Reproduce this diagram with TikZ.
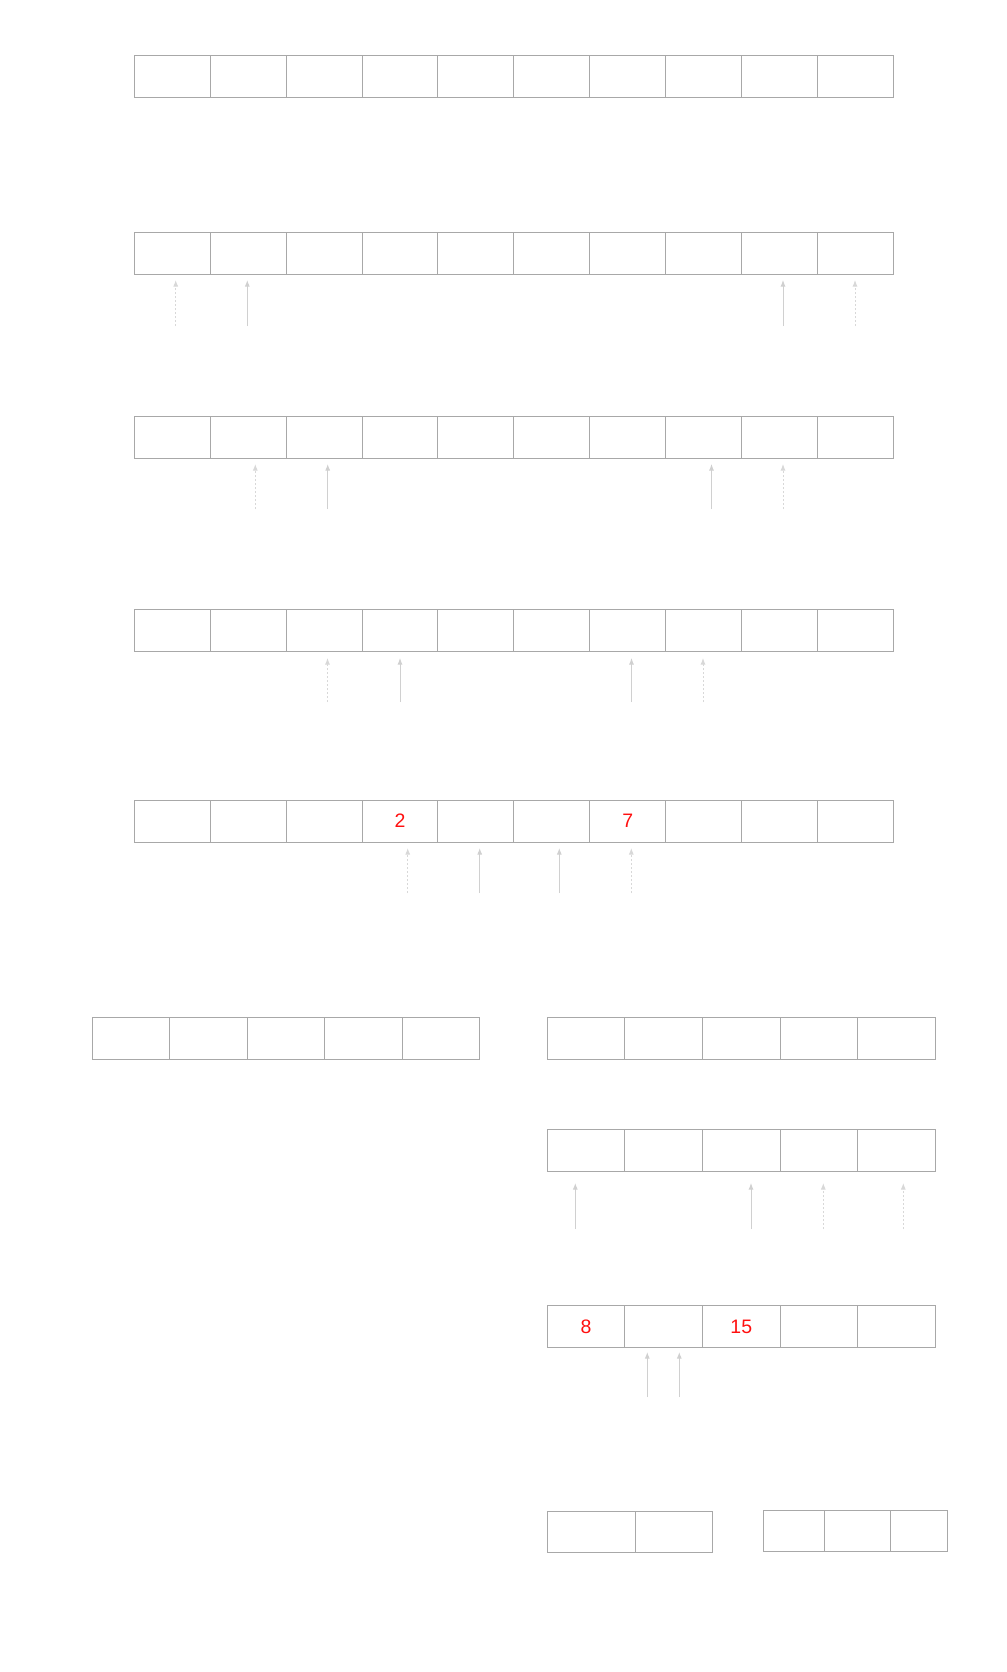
\documentclass[tikz,border=0pt]{standalone}
\usepackage{fontspec}
\setmainfont{Liberation Sans}
\usetikzlibrary{arrows.meta}
\definecolor{cellgray}{HTML}{A8A8A8}
\definecolor{ptrgray}{HTML}{D0D0D0}
\definecolor{dotgray}{HTML}{D8D8D8}
\definecolor{valred}{HTML}{FF1010}
\tikzset{
  cellbox/.style={draw=cellgray, line width=1pt},
  ptrsolid/.style={draw=ptrgray, line width=1pt, -{Latex[length=6.5pt,width=5pt]}},
  ptrdotted/.style={ptrsolid, draw=dotgray, dash pattern=on 2pt off 2pt},
  val/.style={text=valred, font=\fontsize{19.5}{22}\selectfont, inner sep=0pt}
}
\begin{document}
\begin{tikzpicture}[x=1pt,y=-1pt]
\useasboundingbox (0,0) rectangle (1006,1672);

% long arrays
\foreach \y in {56,232.3,416,609,800.3}
  \foreach \i in {0,...,9}
    \draw[cellbox] ({134.3+75.9*\i},\y) rectangle ++(75.9,42);

\node[val] (two) at (400,821) {2};
\node[val] (seven) at (627.7,821) {7};

% pointers
\draw[ptrdotted] (175.7,326) -- (175.7,280);
\draw[ptrsolid] (247.3,326) -- (247.3,280);
\draw[ptrsolid] (783,326) -- (783,280);
\draw[ptrdotted] (855,326) -- (855,280);

\draw[ptrdotted] (255.3,509) -- (255.3,464);
\draw[ptrsolid] (327.7,509) -- (327.7,464);
\draw[ptrsolid] (711.5,509) -- (711.5,464);
\draw[ptrdotted] (783,509) -- (783,464);

\draw[ptrdotted] (327.5,702) -- (327.5,658);
\draw[ptrsolid] (400,702) -- (400,658);
\draw[ptrsolid] (631.5,702) -- (631.5,658);
\draw[ptrdotted] (703,702) -- (703,658);

\draw[ptrdotted] (407.7,893) -- (407.7,848);
\draw[ptrsolid] (479.7,893) -- (479.7,848);
\draw[ptrsolid] (559.3,893) -- (559.3,848);
\draw[ptrdotted] (631.3,893) -- (631.3,848);

% halves
\foreach \i in {0,...,4}
  \draw[cellbox] ({92.3+77.5*\i},1017.5) rectangle ++(77.5,42);
\foreach \y in {1017.5,1129.3,1305.3}
  \foreach \i in {0,...,4}
    \draw[cellbox] ({547.3+77.6*\i},\y) rectangle ++(77.6,42);

\draw[ptrsolid] (575.3,1229) -- (575.3,1183);
\draw[ptrsolid] (751,1229) -- (751,1183);
\draw[ptrdotted] (823.3,1229) -- (823.3,1183);
\draw[ptrdotted] (903.3,1229) -- (903.3,1183);

\node[val] (eight) at (586.1,1326.5) {8};
\node[val] (fifteen) at (741.3,1326.5) {15};

\draw[ptrsolid] (647.3,1397) -- (647.3,1352);
\draw[ptrsolid] (679.3,1397) -- (679.3,1352);

% small pieces
\draw[cellbox] (547.3,1511.7) rectangle (635.7,1552.3);
\draw[cellbox] (635.7,1511.7) rectangle (712.3,1552.3);
\draw[cellbox] (763.3,1510.3) rectangle (824.3,1551.3);
\draw[cellbox] (824.3,1510.3) rectangle (890.3,1551.3);
\draw[cellbox] (890.3,1510.3) rectangle (947.3,1551.3);
\end{tikzpicture}
\end{document}
